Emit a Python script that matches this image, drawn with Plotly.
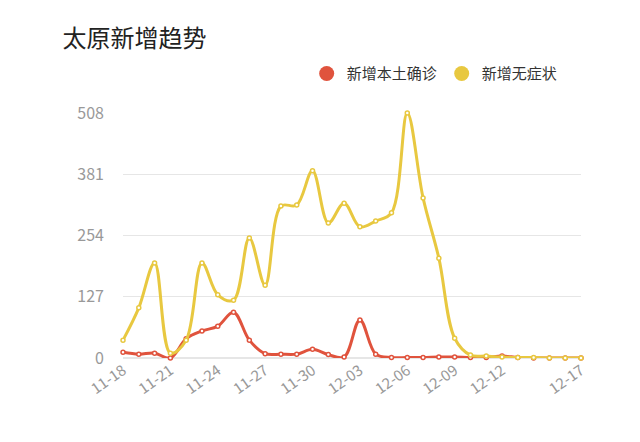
import plotly.graph_objects as go

dates = ["11-18","11-19","11-20","11-21","11-22","11-23","11-24","11-25","11-26","11-27",
         "11-28","11-29","11-30","12-01","12-02","12-03","12-04","12-05","12-06","12-07",
         "12-08","12-09","12-10","12-11","12-12","12-13","12-14","12-15","12-16","12-17"]
local = [12,8,10,0,40,56,66,95,37,9,8,8,18,7,2,79,8,1,1,1,2,2,1,1,4,1,0,0,0,0]
asym = [37,104,197,10,37,197,131,120,249,151,315,317,388,280,321,272,284,301,508,332,
        207,41,6,4,2,1,1,0,0,0]
tick_labels = ["11-18","11-21","11-24","11-27","11-30","12-03","12-06","12-09","12-12","12-17"]
y_ticks = [0,127,254,381,508]

font = "Noto Sans CJK SC"
red, yellow = "#e0533d", "#e8c840"
fig = go.Figure()
for name, vals, c in [("新增本土确诊", local, red), ("新增无症状", asym, yellow)]:
    fig.add_trace(go.Scatter(x=dates, y=vals, name=name, mode="lines+markers", showlegend=False,
        cliponaxis=False,
        line=dict(color=c, width=3, shape="spline", smoothing=1),
        marker=dict(size=4, color="white", line=dict(color=c, width=1.5))))
    fig.add_trace(go.Scatter(x=[None], y=[None], name=name, mode="markers",
        marker=dict(size=15, color=c)))

fig.update_layout(
    width=640, height=442, paper_bgcolor="white", plot_bgcolor="white",
    margin=dict(l=115, r=67, t=105, b=92, autoexpand=False),
    font=dict(family=font, color="#888", size=14),
    title=dict(text="太原新增趋势", x=0.085, y=0.93, xanchor="left", yanchor="middle",
               font=dict(size=24, color="#222", family=font)),
    legend=dict(orientation="h", x=0.96, xanchor="right", y=1.16, yanchor="middle",
                font=dict(size=15, color="#333"), itemwidth=30),
    xaxis=dict(type="category", tickvals=tick_labels, ticktext=tick_labels, tickangle=-35,
               showgrid=False, showline=False, ticks="", range=[0, 29], automargin=False,
               tickfont=dict(size=15, color="#999")),
    yaxis=dict(tickvals=y_ticks, range=[0, 508], showgrid=True, gridcolor="#e6e6e6",
               zeroline=True, zerolinecolor="#e6e6e6", ticks="", ticklabelstandoff=18,
               automargin=False, tickfont=dict(size=16, color="#999")),
)
fig.write_html("out.html")
